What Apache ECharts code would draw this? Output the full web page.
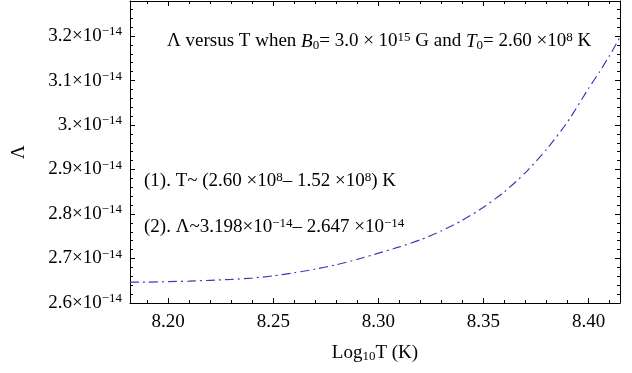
<!DOCTYPE html>
<html><head><meta charset="utf-8">
<script src="https://cdn.jsdelivr.net/npm/echarts@6/dist/echarts.min.js"></script>
<style>html,body{margin:0;padding:0;background:#fff}#c{width:632px;height:373px}</style>
</head><body><div id="c"></div>
<script>
// log10 T (K)
const logT = [8.1818, 8.19, 8.20, 8.21, 8.22, 8.23, 8.24, 8.25, 8.26, 8.27, 8.28, 8.29, 8.30, 8.31, 8.32, 8.33, 8.34, 8.35, 8.36, 8.37, 8.38, 8.39, 8.40, 8.405, 8.41, 8.4150];
// Lambda in units of 1e-14
const lambda = [2.647, 2.647, 2.648, 2.649, 2.651, 2.653, 2.656, 2.661, 2.668, 2.676, 2.686, 2.698, 2.712, 2.726, 2.742, 2.762, 2.786, 2.815, 2.850, 2.893, 2.945, 3.007, 3.082, 3.118, 3.156, 3.198];
const xTicks = [8.20, 8.25, 8.30, 8.35, 8.40];
const xTickLabels = ['8.20', '8.25', '8.30', '8.35', '8.40'];
const yTicks = [2.6, 2.7, 2.8, 2.9, 3.0, 3.1, 3.2];
const yTickLabels = ['2.6', '2.7', '2.8', '2.9', '3.', '3.1', '3.2'];
const xMin = 8.18184, xMax = 8.41497, yMin = 2.6, yMax = 3.2787;

const xMinor = [], yMinor = [];
for (let i = 819; i <= 841; i++) { if (i % 5) xMinor.push(i / 100); }
for (let i = 131; i <= 163; i++) { if (i % 5) yMinor.push(i / 50); }

const FONT = 'Liberation Serif';
const TXT = '#000';
const FS = 19;
const supS = { fontFamily: FONT, fontSize: 13, color: TXT, padding: [0, 0, 8, 0] };
const subS = { fontFamily: FONT, fontSize: 13, color: TXT, padding: [6, 0, 0, 0], verticalAlign: 'bottom' };
const mainS = { fontFamily: FONT, fontSize: FS, color: TXT };
const itS = { fontFamily: FONT, fontSize: FS, color: TXT, fontStyle: 'italic' };

function xAx(pos, custom, len, line, label) {
  return {
    type: 'value', position: pos, min: xMin, max: xMax,
    axisLine: { show: line, lineStyle: { color: '#000', width: 1 } },
    axisTick: { show: true, inside: true, length: len, customValues: custom, lineStyle: { color: '#000' } },
    axisLabel: label ? {
      show: true, customValues: xTicks, margin: 10, fontFamily: FONT, fontSize: FS, color: TXT,
      formatter: v => xTickLabels[xTicks.findIndex(t => Math.abs(t - v) < 1e-6)]
    } : { show: false },
    splitLine: { show: false }
  };
}
function yAx(pos, custom, len, line, label) {
  return {
    type: 'value', position: pos, min: yMin, max: yMax,
    axisLine: { show: line, lineStyle: { color: '#000', width: 1 } },
    axisTick: { show: true, inside: true, length: len, customValues: custom, lineStyle: { color: '#000' } },
    axisLabel: label ? {
      show: true, customValues: yTicks, margin: 8,
      formatter: v => '{m|' + yTickLabels[yTicks.findIndex(t => Math.abs(t - v) < 1e-6)] + '×10}{s|−14}',
      rich: { m: mainS, s: supS }
    } : { show: false },
    splitLine: { show: false }
  };
}

const xAxes = [xAx('bottom', xTicks, 5, true, true), xAx('bottom', xMinor, 3, false, false),
               xAx('top', xTicks, 5, true, false), xAx('top', xMinor, 3, false, false)];
xAxes[0].name = '{m|Log}{b|10}{m|T (K)}';
xAxes[0].nameLocation = 'middle';
xAxes[0].nameGap = 41;
xAxes[0].nameTextStyle = { rich: { m: mainS, b: subS } };
const yAxes = [yAx('left', yTicks, 5, true, true), yAx('left', yMinor, 3, false, false),
               yAx('right', yTicks, 5, true, false), yAx('right', yMinor, 3, false, false)];
yAxes[0].name = 'Λ';
yAxes[0].nameLocation = 'middle';
yAxes[0].nameGap = 101;
yAxes[0].nameTextStyle = { fontFamily: FONT, fontSize: FS, color: TXT };

const chart = echarts.init(document.getElementById('c'));
chart.setOption({
  animation: false,
  backgroundColor: '#fff',
  grid: { left: 130, right: 12, top: 1, bottom: 70, containLabel: false },
  xAxis: xAxes,
  yAxis: yAxes,
  graphic: [
    { type: 'text', left: 167, top: 31, style: {
      text: '{m|Λ versus T when }{i|B}{b|0}{m|= 3.0 × 10}{s|15}{m| G and }{i|T}{b|0}{m|= 2.60 ×10}{s|8}{m| K}',
      rich: { m: mainS, i: itS, b: subS, s: supS } } },
    { type: 'text', left: 144, top: 171, style: {
      text: '{m|(1). T~ (2.60 ×10}{s|8}{m|– 1.52 ×10}{s|8}{m|) K}',
      rich: { m: mainS, s: supS } } },
    { type: 'text', left: 144, top: 217, style: {
      text: '{m|(2). Λ~3.198×10}{s|−14}{m|– 2.647 ×10}{s|−14}',
      rich: { m: mainS, s: supS } } }
  ],
  series: [{
    type: 'line', xAxisIndex: 0, yAxisIndex: 0,
    data: logT.map((x, i) => [x, lambda[i]]),
    smooth: 0.2, showSymbol: false, symbol: 'none',
    lineStyle: { color: '#3c3cb4', width: 1.2, type: [9, 4, 2, 4] }
  }]
});
</script></body></html>
